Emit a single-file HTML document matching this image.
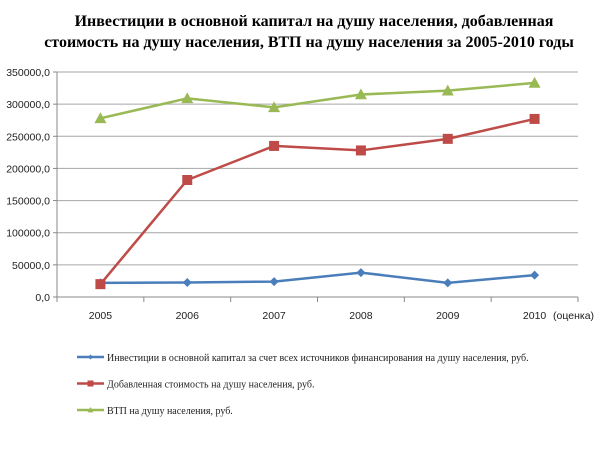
<!DOCTYPE html>
<html><head><meta charset="utf-8"><style>
body{margin:0;background:#fff;width:600px;height:455px;overflow:hidden}
svg text{font-family:"Liberation Sans",sans-serif}
</style></head><body>
<svg id="c" width="600" height="455">
<text x="314" y="26" text-anchor="middle" style="font-family:'Liberation Serif',serif;font-weight:bold;font-size:16px">Инвестиции в основной капитал на душу населения, добавленная</text>
<text x="309" y="47" text-anchor="middle" style="font-family:'Liberation Serif',serif;font-weight:bold;font-size:16px">стоимость на душу населения, ВТП на душу населения за 2005-2010 годы</text>
<g id="grid"></g><g id="axes"></g><g id="series"></g><g id="legend"></g>
</svg>
<script>
const categories=["2005","2006","2007","2008","2009","2010"];
const investValues=[22000,22500,24000,38000,22000,34000];
const addedValues=[20000,182000,235000,228000,246000,277000];
const vtpValues=[278000,309000,295000,315000,321000,333000];
const yTicks=[0,50000,100000,150000,200000,250000,300000,350000];
const seriesNames=["Инвестиции в основной капитал за счет всех источников финансирования на душу населения, руб.","Добавленная стоимость на душу населения, руб.","ВТП на душу населения, руб."];
const NS="http://www.w3.org/2000/svg";
const x0=57,x1=578,y0=297,y1=72,yMax=350000;
const bw=(x1-x0)/categories.length;
const X=i=>x0+bw*(i+0.5);
const Y=v=>y0-(v/yMax)*(y0-y1);
function mk(tag,attrs,parent,txt){const e=document.createElementNS(NS,tag);for(const k in attrs)e.setAttribute(k,attrs[k]);if(txt!=null)e.textContent=txt;document.getElementById(parent).appendChild(e);return e;}
yTicks.forEach(t=>{
 if(t>0){const l=mk('line',{x1:x0,x2:x1,y1:Y(t),y2:Y(t),stroke:'#a6a6a6','stroke-width':1},'grid');
 
 }
 const tx=mk('text',{x:x0-7,y:Y(t)+4,'text-anchor':'end','font-size':'10.5','fill':'#222'},'axes',t.toFixed(0)+',0');
 
 
 const tk=mk('line',{x1:x0-4,x2:x0,y1:Y(t),y2:Y(t),stroke:'#888'},'axes');
 
 
});
let ya=mk('line',{x1:x0,x2:x0,y1:y1,y2:y0,stroke:'#888'},'axes');


let xa=mk('line',{x1:x0,x2:x1,y1:y0,y2:y0,stroke:'#888'},'axes');


for(let i=0;i<=categories.length;i++){const t=mk('line',{x1:x0+bw*i,x2:x0+bw*i,y1:y0,y2:y0+5,stroke:'#888'},'axes');
 
 }
categories.forEach((c,i)=>{const t=mk('text',{x:X(i),y:y0+22,'text-anchor':'middle','font-size':'10.5','fill':'#222'},'axes',c);
 
 });
let est=mk('text',{x:553,y:y0+22,'font-size':'10.5','fill':'#222'},'axes','(оценка)');


const cols=['#4a7ebb','#be4b48','#98b954'];
const data=[investValues,addedValues,vtpValues];
function marker(k,cx,cy,g,s){
 let m;
 if(k===0)m=mk('polygon',{points:`${cx},${cy-s} ${cx+s},${cy} ${cx},${cy+s} ${cx-s},${cy}`,fill:cols[0]},g);
 else if(k===1)m=mk('rect',{x:cx-s,y:cy-s,width:2*s,height:2*s,fill:cols[1]},g);
 else m=mk('polygon',{points:`${cx},${cy-s} ${cx+s},${cy+s*0.8} ${cx-s},${cy+s*0.8}`,fill:cols[2]},g);
 return m;
}
data.forEach((vals,k)=>{
 const p=mk('polyline',{points:vals.map((v,i)=>X(i)+','+Y(v)).join(' '),fill:'none',stroke:cols[k],'stroke-width':2.5},'series');
 
 
 vals.forEach((v,i)=>{const m=marker(k,X(i),Y(v),'series',k===0?4.5:k===1?5:6);
 
 });
 const ly=357+k*26.5;
 const ll=mk('line',{x1:77,x2:104,y1:ly,y2:ly,stroke:cols[k],'stroke-width':2.5},'legend');
 
 
 marker(k,90.5,ly,'legend',k===0?2.5:3);
 const lt=mk('text',{x:107,y:ly+4,'font-size':'10','fill':'#222',style:"font-family:'Liberation Serif',serif"},'legend',seriesNames[k]);
 
 
});
</script>
</body></html>
